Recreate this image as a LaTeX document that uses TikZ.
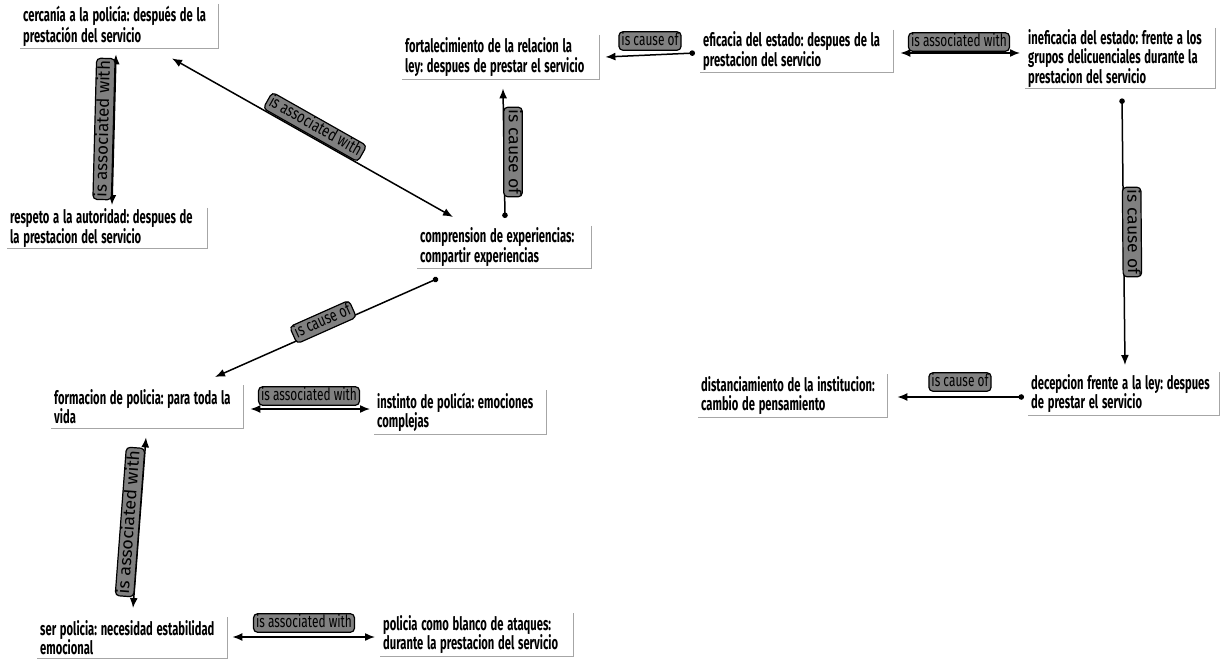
\documentclass[tikz,border=0pt]{standalone}
\usepackage{fontspec}
\usepackage{graphicx}
\setmainfont{Fira Sans}
\newcommand\cz[1]{\scalebox{0.605}[1]{#1}}
\newcommand\lz[2][1]{\scalebox{\fpeval{0.7*#1}}[1]{#2}}
\usetikzlibrary{arrows.meta,calc}
\begin{document}
\frenchspacing
\begin{tikzpicture}[x=1pt,y=-1pt,
  cbox/.style={anchor=north west, inner xsep=3pt, inner ysep=0pt, align=left,
    font=\bfseries\fontsize{18.5}{19.5}\selectfont},
  border/.style={draw=black!35, line width=1.2pt},
  rel/.style={line width=1.5pt, draw=black},
  both/.style={rel, {Latex[length=10pt,width=8pt]}-{Latex[length=10pt,width=8pt]}},
  cause/.style={rel, {Circle[length=5.5pt]}-{Latex[length=10pt,width=8pt]}},
  lab/.style={fill=black!50, draw=black, line width=1.2pt, rounded corners=4pt,
    inner xsep=2.5pt, inner ysep=1.5pt, text=black, text height=12pt, text depth=3.5pt,
    font=\fontsize{17}{17}\selectfont}
]
\useasboundingbox (0,0) rectangle (1220,660);
\fill[white] (0,0) rectangle (1220,660);

% concept boxes
\node[cbox, text width=192pt, minimum height=44pt] (cerc) at (20,4) {\cz{cercanía a la policía: después de la}\\\cz{prestación del servicio}};
\node[cbox, text width=194pt, minimum height=40pt] (resp) at (7,208) {\cz{respeto a la autoridad: despues de}\\\cz{la prestacion del servicio}};
\node[cbox, text width=191pt, minimum height=44pt] (fort) at (402,35) {\cz{fortalecimiento de la relacion la}\\\cz{ley: despues de prestar el servicio}};
\node[cbox, text width=168pt, minimum height=42pt] (comp) at (417,226) {\cz{comprension de experiencias:}\\\cz{compartir experiencias}};
\node[cbox, text width=187pt, minimum height=42pt] (efic) at (700,30) {\cz{eficacia del estado: despues de la}\\\cz{prestacion del servicio}};
\node[cbox, text width=184pt, minimum height=60pt] (inef) at (1025,28) {\cz{ineficacia del estado: frente a los}\\\cz{grupos delicuenciales durante la}\\\cz{prestacion del servicio}};
\node[cbox, text width=185pt, minimum height=43pt] (dece) at (1028,372) {\cz{decepcion frente a la ley: despues}\\\cz{de prestar el servicio}};
\node[cbox, text width=183pt, minimum height=43pt] (dist) at (698,374) {\cz{distanciamiento de la institucion:}\\\cz{cambio de pensamiento}};
\node[cbox, text width=186pt, minimum height=43pt] (form) at (51,385) {\cz{formacion de policia: para toda la}\\\cz{vida}};
\node[cbox, text width=166pt, minimum height=44pt] (inst) at (374,390) {\cz{instinto de policía: emociones}\\\cz{complejas}};
\node[cbox, text width=184pt, minimum height=41pt] (serp) at (37,617) {\cz{ser policia: necesidad estabilidad}\\\cz{emocional}};
\node[cbox, text width=187pt, minimum height=43pt] (blan) at (380,613) {\cz{policia como blanco de ataques:}\\\cz{durante la prestacion del servicio}};

\foreach \n in {cerc,resp,fort,comp,efic,inef,dece,dist,form,inst,serp,blan}
  \draw[border] (\n.north east) |- (\n.south west);

% connectors
\draw[both] ([shift={(96,6)}]cerc.south west) -- ([shift={(105,-3)}]resp.north west);
\draw[both] ([shift={(152,10)}]cerc.south west) -- ([shift={(36,-9)}]comp.north west);
\draw[cause] ([shift={(88,-8)}]comp.north west) -- ([shift={(101,9)}]fort.south west);
\draw[cause] ([shift={(-5,23)}]efic.north west) -- ([shift={(6,22)}]fort.north east);
\draw[both] ([shift={(7,23)}]efic.north east) -- ([shift={(-5,25)}]inef.north west);
\draw[cause] ([shift={(97,10)}]inef.south west) -- ([shift={(97,-7)}]dece.north west);
\draw[cause] ([shift={(-4,25)}]dece.north west) -- ([shift={(10,23)}]dist.north east);
\draw[cause] ([shift={(21,10)}]comp.south west) -- ([shift={(164,-8)}]form.north west);
\draw[both] ([shift={(7,24)}]form.north east) -- ([shift={(-4,19)}]inst.north west);
\draw[both] ([shift={(95,9)}]form.south west) -- ([shift={(96,-9)}]serp.north west);
\draw[both] ([shift={(5,20)}]serp.north east) -- ([shift={(-5,24)}]blan.north west);

% connector labels
\node[lab, rotate=88.5] (l1) at (104,129) {\lz[1.42]{is associated with}};
\node[lab, rotate=-29.5] (l2) at (315,127) {\lz[1.08]{is associated with}};
\node[lab, rotate=-90] (l3) at (513,152) {\lz[1.48]{is cause of}};
\node[lab] (l4) at (650,41) {\lz{is cause of}};
\node[lab] (l5) at (959,42) {\lz{is associated with}};
\node[lab, rotate=-89.5] (l6) at (1132,232) {\lz[1.48]{is cause of}};
\node[lab] (l7) at (960,382) {\lz{is cause of}};
\node[lab, rotate=24] (l8) at (323,322) {\lz[1.05]{is cause of}};
\node[lab] (l9) at (309,396) {\lz{is associated with}};
\node[lab, rotate=85.7] (l10) at (130,522) {\lz[1.5]{is associated with}};
\node[lab] (l11) at (304,623) {\lz{is associated with}};
\end{tikzpicture}
\end{document}
